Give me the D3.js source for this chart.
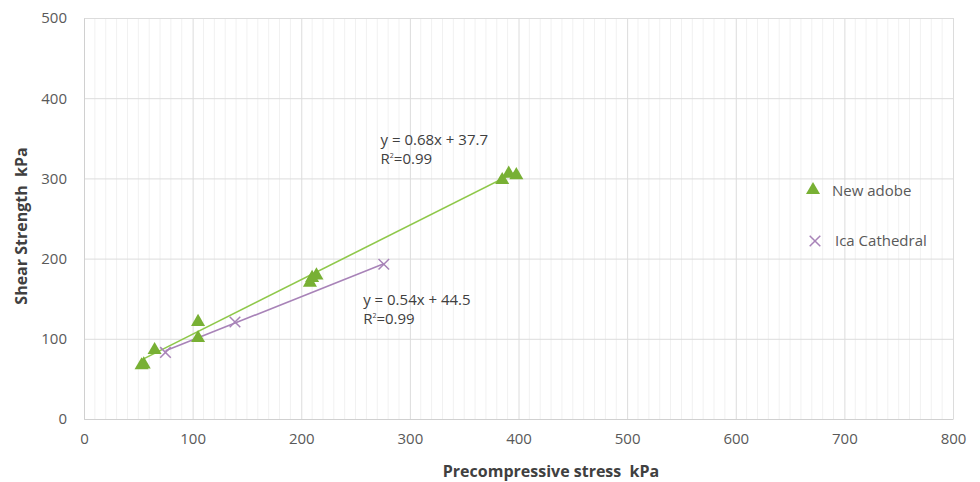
<!DOCTYPE html>
<html>
<head>
<meta charset="utf-8">
<script src="https://cdn.jsdelivr.net/npm/d3@7"></script>
<style>
  body { margin: 0; background: #fff; }
  text { font-family: "Open Sans", "Noto Sans", sans-serif; white-space: pre; }
</style>
</head>
<body>
<div id="chart"></div>
<script>
// data
const adobeX = [53, 55, 65, 105, 105, 208, 210, 214, 385, 391, 398];
const adobeY = [67, 68, 86, 101, 121, 170, 176, 179, 298, 306, 304];
const icaX = [75, 139, 276];
const icaY = [83, 121, 193];
const xTicks = [0, 100, 200, 300, 400, 500, 600, 700, 800];
const yTicks = [0, 100, 200, 300, 400, 500];
const seriesNames = ["New adobe", "Ica Cathedral"];
const fits = [
  { slope: 0.68, icpt: 37.7, eq: "y = 0.68x + 37.7", r2: "0.99" },
  { slope: 0.54, icpt: 44.5, eq: "y = 0.54x + 44.5", r2: "0.99" }
];

const width = 980, height = 482;
const margin = { top: 18, right: 27, bottom: 63, left: 84 };

const svg = d3.select("#chart").append("svg")
  .attr("width", width)
  .attr("height", height);

const x = d3.scaleLinear().domain([0, 800]).range([margin.left, width - margin.right]);
const y = d3.scaleLinear().domain([0, 500]).range([height - margin.bottom, margin.top]);

const green = "#78b034", greenLine = "#8fc84a", purple = "#a883b8";

// minor vertical grid
svg.append("g")
  .selectAll("line")
  .data(d3.range(10, 800, 10).filter(v => v % 100 !== 0))
  .join("line")
  .attr("x1", d => x(d)).attr("x2", d => x(d))
  .attr("y1", y(0)).attr("y2", y(500))
  .attr("stroke", "#f1f1f1").attr("stroke-width", 1);

// major grid
svg.append("g")
  .call(d3.axisBottom(x).tickValues(xTicks).tickSize(-(y(0) - y(500))).tickFormat(""))
  .attr("transform", `translate(0,${y(0)})`)
  .call(g => g.select(".domain").remove())
  .call(g => g.selectAll("line").attr("stroke", "#dcdcdc"));
svg.append("g")
  .call(d3.axisLeft(y).tickValues(yTicks).tickSize(-(x(800) - x(0))).tickFormat(""))
  .attr("transform", `translate(${x(0)},0)`)
  .call(g => g.select(".domain").remove())
  .call(g => g.selectAll("line").attr("stroke", "#dcdcdc"));

// tick labels
const xAxis = svg.append("g")
  .attr("transform", `translate(0,${y(0)})`)
  .call(d3.axisBottom(x).tickValues(xTicks).tickSize(0).tickPadding(14));
xAxis.select(".domain").attr("stroke", "#d0d0d0");
xAxis.selectAll("text").attr("font-size", 15).attr("fill", "#595959")
  .style("font-family", "'Open Sans', sans-serif");

const yAxis = svg.append("g")
  .attr("transform", `translate(${x(0)},0)`)
  .call(d3.axisLeft(y).tickValues(yTicks).tickSize(0).tickPadding(17));
yAxis.select(".domain").attr("stroke", "#d0d0d0");
yAxis.selectAll("text").attr("font-size", 15).attr("fill", "#595959")
  .style("font-family", "'Open Sans', sans-serif");

// axis titles
svg.append("text")
  .attr("x", 551).attr("y", 477)
  .attr("text-anchor", "middle")
  .attr("font-size", 16).attr("font-weight", "bold").attr("fill", "#404040")
  .text("Precompressive stress  kPa");
svg.append("text")
  .attr("transform", "translate(27,226) rotate(-90)")
  .attr("text-anchor", "middle")
  .attr("font-size", 16).attr("font-weight", "bold").attr("fill", "#404040")
  .text("Shear Strength  kPa");

// trendlines
const line = d3.line().x(d => x(d[0])).y(d => y(d[1]));
[[adobeX, fits[0], greenLine], [icaX, fits[1], purple]].forEach(([xs, f, c]) => {
  const ext = d3.extent(xs);
  svg.append("path")
    .attr("d", line(ext.map(v => [v, f.slope * v + f.icpt])))
    .attr("fill", "none").attr("stroke", c).attr("stroke-width", 1.6);
});

// markers
const tri = d3.symbol().type(d3.symbolTriangle).size(85);
svg.append("g")
  .selectAll("path")
  .data(adobeX.map((v, i) => [v, adobeY[i]]))
  .join("path")
  .attr("d", tri)
  .attr("transform", d => `translate(${x(d[0])},${y(d[1])})`)
  .attr("fill", green);

const cross = d3.symbol().type(d3.symbolX).size(75);
svg.append("g")
  .selectAll("path")
  .data(icaX.map((v, i) => [v, icaY[i]]))
  .join("path")
  .attr("d", cross)
  .attr("transform", d => `translate(${x(d[0])},${y(d[1])})`)
  .attr("fill", "none").attr("stroke", purple).attr("stroke-width", 1.5);

// equation labels
const eqPos = [[273, 341.5], [257, 142]];
fits.forEach((f, i) => {
  const g = svg.append("g")
    .attr("font-size", 15).attr("fill", "#404040");
  g.append("text").attr("x", x(eqPos[i][0])).attr("y", y(eqPos[i][1])).text(f.eq);
  const r = g.append("text").attr("x", x(eqPos[i][0])).attr("y", y(eqPos[i][1]) + 19);
  r.append("tspan").text("R");
  r.append("tspan").attr("font-size", 7).attr("dy", -6).text("2");
  r.append("tspan").attr("dy", 6).text("=" + f.r2);
});

// legend
const legend = svg.append("g").attr("font-size", 15).attr("fill", "#595959");
legend.append("path").attr("d", tri)
  .attr("transform", "translate(813,190)").attr("fill", green);
legend.append("text").attr("x", 832).attr("y", 196).text(seriesNames[0]);
legend.append("path").attr("d", cross)
  .attr("transform", "translate(815,241)")
  .attr("fill", "none").attr("stroke", purple).attr("stroke-width", 1.5);
legend.append("text").attr("x", 835).attr("y", 246).text(seriesNames[1]);
</script>
</body>
</html>
